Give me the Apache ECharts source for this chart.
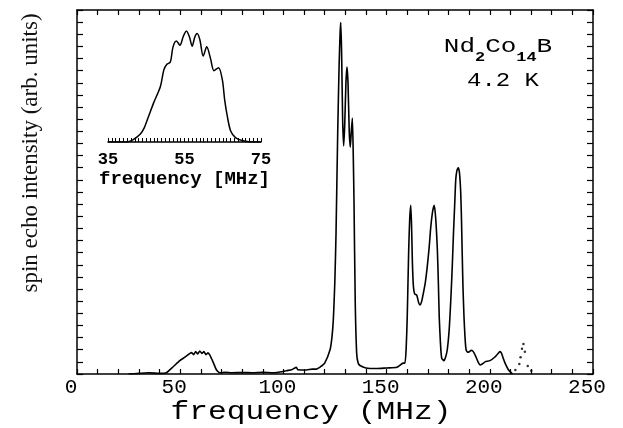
<!DOCTYPE html>
<html>
<head>
<meta charset="utf-8">
<title>Nd2Co14B spin echo</title>
<script src="https://cdn.jsdelivr.net/npm/echarts@6.0.0/dist/echarts.min.js"></script>
<style>
    html, body { margin: 0; padding: 0; background: #fff; }
    #chart { width: 623px; height: 428px; }
</style>
</head>
<body>
<div id="chart"></div>
<script>
/*主谱: 频率 (MHz) / 自旋回波强度 (任意单位)*/
var mainFreq = [25, 30, 35, 40, 43.3, 46.6, 49.8, 51.5, 53.1, 55.5, 56.5, 57.5, 58.5, 59.5, 60.5, 61.5, 62.5, 63.5, 64.3, 65.9,
    67.6, 69.2, 72, 75, 80, 85, 90, 95, 100, 101.4, 104, 106.3, 107, 111.1, 114, 116, 118, 120,
    122.6, 123.5, 124.2, 124.9, 125.5, 126.3, 127.0, 127.5, 127.8, 128.2, 128.7, 129.2, 129.7, 130.3, 130.8, 131.3, 131.9, 132.4,
    132.9, 133.4, 133.8, 134.2, 134.8, 135.5, 136.2, 137.1, 140, 145, 150, 155, 158.1,
    158.9, 159.5, 160.0, 160.7, 161.2, 161.7, 162.1, 162.5, 163.0, 163.6, 164.6, 165.5, 166.2, 167.0, 167.8, 168.8, 169.7, 170.6,
    171.4, 172.3, 173.1, 173.8, 174.6, 175.1, 175.5, 176.1, 176.7, 177.8, 178.6, 179.4, 180.3, 181.1, 181.8, 182.4, 183.0, 183.5,
    184.1, 184.7, 185.3, 185.9, 186.3, 186.6, 187.0, 187.5, 188.0, 188.5, 189.2, 190.1, 191.0, 191.7, 192.5, 193.3, 194.3, 195.3,
    196.5, 197.7, 200.1, 202.5, 203.8, 204.9, 205.7, 206.5, 207.4, 208.2, 209.0, 209.8, 211];
var mainSignal = [0, 0.05, 0.1, 0.05, 0.1, 0.6, 1.1, 1.3, 1.5, 1.76, 1.6, 1.85, 1.65, 1.9, 1.7, 1.85, 1.6, 1.75, 1.57, 1.0,
    0.33, 0.1, 0.15, 0.1, 0.12, 0.1, 0.15, 0.1, 0.2, 0.27, 0.35, 0.55, 0.35, 0.33, 0.4, 0.4, 0.6, 0.9,
    2.0, 3.0, 4.5, 7.5, 11.6, 19.8, 25.5, 28.2, 28.96, 26.5, 21, 18.8, 20.5, 24, 25.3, 24, 20, 18.7,
    20, 21.1, 18.5, 14.3, 6, 1.7, 0.9, 0.7, 0.5, 0.45, 0.5, 0.55, 0.9,
    0.9, 2.2, 4.7, 10.2, 12.8, 13.9, 12.2, 9.2, 7.2, 6.6, 6.5, 5.9, 5.7, 6.0, 6.65, 7.6, 8.85, 10.4,
    12.1, 13.4, 13.9, 12.8, 10.2, 7.4, 4.7, 2.5, 1.3, 1.1, 1.4, 2, 3.6, 6.1, 8.8, 11.6, 14.0, 16,
    16.8, 17.0, 16.6, 15.0, 12.6, 10.2, 7.2, 4.7, 3.0, 2, 1.8, 1.84, 1.95, 1.9, 1.7, 1.4, 1.0, 0.74,
    0.85, 1.0, 1.1, 1.4, 1.65, 1.84, 1.7, 1.3, 0.9, 0.6, 0.35, 0.2, 0];

/*点线部分 (约 217 MHz)*/
var dotFreq = [212.4, 214.3, 214.9, 215.6, 216.3, 217.0, 218.4, 220.1];
var dotSignal = [0.33, 0.82, 1.38, 2.09, 2.47, 1.84, 0.66, 0.27];

/*插图: 35-75 MHz 放大*/
var insetFreq = [35, 38, 39.9, 41.5, 43.4, 44.5, 45.6, 46.9, 48.7, 49.6, 50.4, 51.3, 52.0, 52.9, 53.8, 54.7, 55.5, 56.3, 57.0, 57.7,
    58.3, 59.0, 59.9, 60.8, 61.8, 62.7, 63.9, 64.9, 65.5, 66.2, 67.1, 68.4, 70.6, 73.2, 75];
var insetSignal = [0, 0, 0, 2, 6.9, 13, 23, 35, 50, 65, 70, 72, 85.7, 91, 87.2, 95.3, 100, 94.6, 86.3, 94.6,
    97.7, 92.3, 77.4, 85.7, 75.3, 64.3, 67, 56, 38, 23, 9.6, 3.8, 0.9, 0, 0];

var mainTicks = [0, 50, 100, 150, 200, 250];
var insetTicks = [35, 55, 75];

var monoFont = '"Liberation Mono", "DejaVu Sans Mono", monospace';
var ink = '#000';

function pairs(xs, ys) {
    var out = [];
    for (var i = 0; i < xs.length; i++) {
        out.push([xs[i], ys[i]]);
    }
    return out;
}

function frameAxis(pos, showLabel) {
    return {
        gridIndex: 0,
        type: 'value',
        position: pos,
        axisLine: { show: true, onZero: false, lineStyle: { color: ink, width: 1.5 } },
        axisTick: { show: true, inside: true, length: 5, lineStyle: { color: ink, width: 1.2 } },
        splitLine: { show: false },
        minorSplitLine: { show: false },
        axisLabel: { show: showLabel }
    };
}

function drawChart() {
    var chart = echarts.init(document.getElementById('chart'), null, { renderer: 'canvas' });

    var xBottom = frameAxis('bottom', true);
    xBottom.min = mainTicks[0];
    xBottom.max = mainTicks[mainTicks.length - 1];
    xBottom.interval = mainTicks[1] - mainTicks[0];
    xBottom.minorTick = { show: true, splitNumber: 5, length: 5, lineStyle: { color: ink, width: 1.2 } };
    xBottom.axisLabel = {
        show: true, fontFamily: monoFont, fontSize: 21, color: ink, margin: 3,
        padding: [0, 12, 0, 0], showMinLabel: true, showMaxLabel: true
    };

    var xTop = frameAxis('top', false);
    xTop.min = xBottom.min;
    xTop.max = xBottom.max;
    xTop.interval = xBottom.interval;
    xTop.minorTick = xBottom.minorTick;

    var yLeft = frameAxis('left', false);
    yLeft.min = 0;
    yLeft.max = 30;
    yLeft.interval = 1;
    yLeft.axisTick.length = 6;
    yLeft.name = 'spin echo intensity (arb. units)';
    yLeft.nameLocation = 'middle';
    yLeft.nameGap = 35;
    yLeft.nameTextStyle = {
        fontFamily: '"Liberation Serif", "DejaVu Serif", serif', fontSize: 23, color: '#111',
        padding: [0, 0, 0, 78]
    };

    var yRight = frameAxis('right', false);
    yRight.min = 0;
    yRight.max = 30;
    yRight.interval = 1;
    yRight.axisTick.length = 6;

    var option = {
        animation: false,
        backgroundColor: '#fff',
        grid: [
            { left: 77, right: 30, top: 10, bottom: 54, containLabel: false, outerBoundsMode: 'none' },
            { left: 108, right: 362, top: 31, bottom: 286, containLabel: false, outerBoundsMode: 'none' }
        ],
        xAxis: [
            xBottom,
            xTop,
            {
                gridIndex: 1,
                type: 'value',
                min: insetTicks[0],
                max: insetTicks[insetTicks.length - 1],
                interval: insetTicks[1] - insetTicks[0],
                axisLine: { show: true, onZero: false, lineStyle: { color: ink, width: 1.5 } },
                axisTick: { show: true, inside: true, length: 4, lineStyle: { color: ink, width: 1 } },
                minorTick: { show: true, splitNumber: 20, length: 4, lineStyle: { color: ink, width: 1 } },
                splitLine: { show: false },
                axisLabel: {
                    fontFamily: monoFont, fontSize: 17, fontWeight: 'bold', color: ink, margin: 9,
                    showMinLabel: true, showMaxLabel: true
                },
                name: 'frequency [MHz]',
                nameLocation: 'middle',
                nameGap: 28,
                nameTextStyle: { fontFamily: monoFont, fontSize: 19, fontWeight: 'bold', color: ink }
            }
        ],
        yAxis: [
            yLeft,
            yRight,
            { gridIndex: 1, type: 'value', min: 0, max: 100, show: false }
        ],
        graphic: [
            {
                type: 'text', x: 311, y: 412, scaleX: 1.2,
                style: { text: 'frequency (MHz)', font: '26px ' + monoFont, fill: ink, align: 'center', verticalAlign: 'middle' }
            },
            {
                type: 'text', x: 498, y: 47, scaleX: 1.3,
                style: {
                    text: '{n|Nd}{s|2}{n|Co}{s|14}{n|B}', align: 'center', verticalAlign: 'middle', fill: ink,
                    rich: {
                        n: { fontFamily: monoFont, fontSize: 20, fill: ink },
                        s: { fontFamily: monoFont, fontSize: 13, fontWeight: 'bold', fill: ink, padding: [22, 0, 0, 0] }
                    }
                }
            },
            {
                type: 'text', x: 503, y: 81, scaleX: 1.2,
                style: { text: '4.2 K', font: '20px ' + monoFont, fill: ink, align: 'center', verticalAlign: 'middle' }
            }
        ],
        series: [
            {
                name: 'spectrum',
                type: 'line',
                xAxisIndex: 0,
                yAxisIndex: 0,
                showSymbol: false,
                smooth: 0.2,
                lineStyle: { color: ink, width: 1.6 },
                data: pairs(mainFreq, mainSignal)
            },
            {
                name: 'dotted',
                type: 'scatter',
                xAxisIndex: 0,
                yAxisIndex: 0,
                symbolSize: 2.5,
                itemStyle: { color: ink },
                data: pairs(dotFreq, dotSignal)
            },
            {
                name: 'inset',
                type: 'line',
                xAxisIndex: 2,
                yAxisIndex: 2,
                showSymbol: false,
                smooth: 0.3,
                lineStyle: { color: ink, width: 1.5 },
                data: pairs(insetFreq, insetSignal)
            }
        ]
    };

    chart.clear();
    chart.setOption(option);
}

drawChart();
</script>
</body>
</html>
